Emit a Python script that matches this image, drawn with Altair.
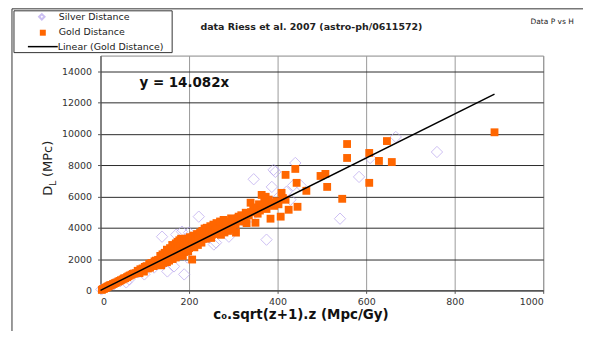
import altair as alt
import pandas as pd

# ---------------- data ----------------
gold_x = [3, 5, 8, 10, 12, 14, 16, 18, 20, 22, 25, 28, 30, 33, 36, 40, 43, 46, 50, 53, 56, 60, 63, 66, 70, 73, 76,
          80, 84, 88, 90, 95, 98, 100, 104, 107, 110, 112, 115, 118, 120, 122, 125, 128, 130,
          132, 135, 137, 140, 142, 145, 147, 150, 150, 152, 155, 157, 158, 160, 162, 163, 165, 166, 168, 170, 170,
          172, 174, 175, 176, 178, 180, 180, 182, 183, 185, 186, 188, 190, 190, 192, 194, 195, 196, 198, 200, 200, 207,
          202, 205, 208, 210, 212, 215, 218, 220, 222, 225, 228, 230, 232, 235, 238, 240, 242, 245, 248, 250,
          252, 255, 258, 260, 262, 265, 268, 270, 272, 275, 278, 280, 282, 285, 288, 290, 292, 295, 298, 300,
          302, 305, 306, 310, 312, 315, 318, 320, 325, 328, 330, 335, 339, 340, 345, 350, 352, 355, 358, 360,
          364, 366, 370, 373, 375, 378, 380, 384, 388, 392, 398, 402, 407, 409, 412, 418, 418, 425, 440, 443,
          445, 465, 497, 508, 512, 546, 557, 557, 607, 607, 629, 647, 658, 890]
gold_y = [30, 80, 100, 150, 170, 200, 240, 260, 300, 330, 350, 400, 420, 470, 500, 560, 600, 650, 700, 760, 780, 850, 900, 950, 1000, 1050, 1080,
          1100, 1250, 1100, 1350, 1400, 1200, 1500, 1550, 1400, 1700, 1450, 1750, 1600, 1550, 1850, 1900, 1650, 1950,
          1700, 2200, 1600, 2300, 1750, 2400, 2000, 1800, 2600, 2300, 1900, 2700, 2100, 2500, 2900, 2000, 2800, 2300, 2600, 3000, 2100,
          2400, 3100, 2300, 2700, 3200, 2400, 2900, 3300, 2500, 3000, 2200, 2750, 3200, 2450, 2900, 3300, 2600, 3000, 2500, 3300, 2700, 1970,
          3400, 2800, 3100, 3500, 2750, 3300, 3600, 2900, 3400, 3700, 3050, 3800, 3300, 3950, 3300, 4000, 3450, 3700, 4100, 3350,
          3560, 4200, 3600, 3900, 4300, 3650, 3950, 4400, 3550, 3900, 4500, 3700, 4100, 4200, 3800, 4400, 3900, 4600, 4100, 4400,
          4500, 4200, 3690, 4600, 4710, 4400, 4800, 4500, 4650, 4960, 4300, 4800, 5600, 5000, 5200, 4320, 5300, 4900, 5500, 5100,
          6100, 5400, 5700, 5980, 5200, 5500, 5800, 4580, 5600, 5400, 5700, 5500, 4710, 6230, 5900, 5790, 7380, 5150, 7760, 6870,
          5340, 6360, 7310, 7440, 6610, 5850, 9350, 8460, 8780, 6870, 8270, 9540, 8200, 10100]

silver_x = [2, 30, 45, 58, 65, 85, 99, 110, 115, 121, 125, 135, 139, 145, 151, 155, 160, 166, 170, 171, 178, 180, 184,
            189, 195, 196, 200, 205, 215, 222, 230, 245, 256, 260, 261, 280, 290, 300, 320, 340, 346, 360, 375, 380,
            387, 391, 395, 400, 420, 429, 435, 440, 452, 541, 584, 609, 667, 760]
silver_y = [60, 380, 600, 510, 700, 1150, 1020, 1530, 1550, 1460, 1700, 2050, 3430, 1950, 1210, 2300, 2420, 1530, 2400, 3560, 2610, 2700, 3750,
            1020, 2900, 2100, 3690, 3000, 3200, 4710, 3300, 3400, 2930, 3800, 3050, 3900, 3430, 4000, 4500, 4700, 7100, 5300, 3240, 5600,
            6610, 7700, 7570, 5900, 6300, 5790, 6700, 8140, 6700, 4580, 7250, 8460, 9800, 8840]

slope = 14.082
fit_x = [0, 890]
fit_y = [slope * v for v in fit_x]

x_ticks = [0, 200, 400, 600, 800, 1000]
y_ticks = [0, 2000, 4000, 6000, 8000, 10000, 12000, 14000]

gold = pd.DataFrame({"x": gold_x, "y": gold_y})
silver = pd.DataFrame({"x": silver_x, "y": silver_y})
fit = pd.DataFrame({"x": fit_x, "y": fit_y})
one = pd.DataFrame({"k": [0]})

FONT = "DejaVu Sans"
SILVER = "#b7a4ee"
GOLD = "#ff6600"

xs = alt.Scale(domain=[0, 1000], nice=False)
ys = alt.Scale(domain=[0, 15000], nice=False)

x_axis = alt.Axis(values=x_ticks, format="d", grid=True, gridColor="#9a9a9a", gridWidth=1,
                  tickSize=3, tickColor="#555", domainColor="#555", labelFont=FONT, labelFontSize=9.5,
                  labelColor="#333", labelPadding=3, labelOverlap=False,
                  title="c₀.sqrt(z+1).z  (Mpc/Gy)", titleFont=FONT, titleFontSize=13.5, titleFontWeight="bold",
                  titleColor="#111", titleX=201, titleY=24, titleAnchor="middle", titleBaseline="middle")
y_axis = alt.Axis(values=y_ticks, format="d", grid=True, gridColor="#2a2a2a", gridWidth=1,
                  tickSize=3, tickColor="#555", domainColor="#555", labelFont=FONT, labelFontSize=9.5,
                  labelColor="#333", labelPadding=6, labelOverlap=False, title=None)

silver_layer = alt.Chart(silver).mark_point(shape="diamond", filled=False, color=SILVER, size=130,
                                            strokeWidth=1).encode(
    x=alt.X("x:Q", scale=xs, axis=x_axis),
    y=alt.Y("y:Q", scale=ys, axis=y_axis))

gold_layer = alt.Chart(gold).mark_square(color=GOLD, size=62, opacity=1).encode(
    x=alt.X("x:Q", scale=xs, axis=x_axis), y=alt.Y("y:Q", scale=ys, axis=y_axis))

fit_layer = alt.Chart(fit).mark_line(color="black", strokeWidth=1.5).encode(
    x=alt.X("x:Q", scale=xs, axis=x_axis), y=alt.Y("y:Q", scale=ys, axis=y_axis))

eq_label = alt.Chart(one).mark_text(text="y = 14.082x", font=FONT, fontSize=13.5, fontWeight="bold",
                                     align="left", baseline="middle", color="#111").encode(
    x=alt.datum(88, scale=xs, axis=x_axis), y=alt.datum(13220, scale=ys, axis=y_axis))

# decorations: outer frame, legend box, titles
frame_left = alt.Chart(one).mark_rule(color="#333", strokeWidth=1).encode(
    x=alt.value(-89), y=alt.value(-47), y2=alt.value(290))
frame_top = alt.Chart(one).mark_rule(color="#333", strokeWidth=1).encode(
    x=alt.value(-89), x2=alt.value(490), y=alt.value(-47))

legend_box = alt.Chart(one).mark_rect(fill="white", stroke="#333", strokeWidth=1).encode(
    x=alt.value(-87), x2=alt.value(72), y=alt.value(-45), y2=alt.value(-3))
leg_diamond = alt.Chart(one).mark_point(shape="diamond", filled=False, color=SILVER, size=30).encode(
    x=alt.value(-59), y=alt.value(-39))
leg_square = alt.Chart(one).mark_square(color=GOLD, size=36, opacity=1).encode(
    x=alt.value(-58), y=alt.value(-23))
leg_line = alt.Chart(one).mark_rule(color="black", strokeWidth=1.5).encode(
    x=alt.value(-73), x2=alt.value(-43), y=alt.value(-9))


def txt(text, x, y, size, weight="normal", align="left", angle=0, baseline="middle"):
    return alt.Chart(one).mark_text(text=text, font=FONT, fontSize=size, fontWeight=weight, align=align,
                                    baseline=baseline, angle=angle, color="#222").encode(
        x=alt.value(x), y=alt.value(y))


leg_t1 = txt("Silver Distance", -42, -39, 9.5)
leg_t2 = txt("Gold Distance", -42, -24, 9.5)
leg_t3 = txt("Linear (Gold Distance)", -43, -9, 9.5)
main_title = txt("data Riess  et al. 2007 (astro-ph/0611572)", 212, -29, 9.5, "bold", "center")
corner = txt("Data P vs H", 454, -34, 7.5, "normal", "center")
yt_d = txt("D", -49, 141, 13, "normal", "left", 270, "alphabetic")
yt_l = txt("L", -45, 131, 9.5, "normal", "left", 270, "alphabetic")
yt_rest = txt("(MPc)", -49, 122, 13, "normal", "left", 270, "alphabetic")

chart = alt.layer(
    frame_left, frame_top, silver_layer, gold_layer, fit_layer, eq_label,
    legend_box, leg_diamond, leg_square, leg_line, leg_t1, leg_t2, leg_t3,
    main_title, corner, yt_d, yt_l, yt_rest
).properties(
    width=445, height=236,
    padding={"left": 93, "top": 47, "right": 40, "bottom": 40},
    autosize=alt.AutoSizeParams(type="none"),
    background="white"
).configure_view(stroke="#888", strokeWidth=1
).configure_axis(labelOverlap=False)

chart.save("out.html", embed_options={"renderer": "svg", "actions": False})
